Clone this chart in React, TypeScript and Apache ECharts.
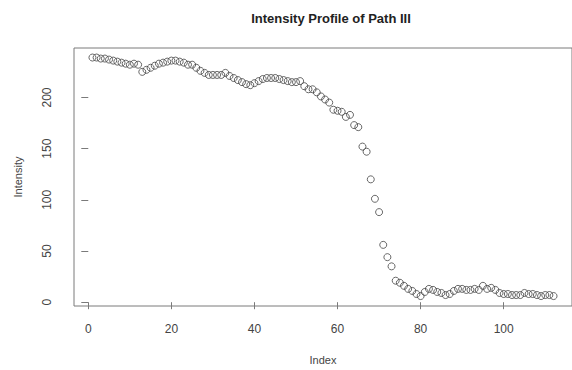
import React, { useEffect, useRef } from "react";
import * as echarts from "echarts";

const title = "Intensity Profile of Path III";
const xName = "Index";
const yName = "Intensity";
const xTicks = [0, 20, 40, 60, 80, 100];
const yTicks = [0, 50, 100, 150, 200];
const intensity = [
  239, 239, 238, 238, 237, 236, 235, 234, 233, 232,
  233, 232, 225, 227, 229, 231, 233, 234, 235, 236,
  236, 235, 234, 232, 232, 229, 226, 224, 222, 222,
  222, 222, 224, 221, 219, 217, 215, 213, 212, 214,
  216, 218, 219, 219, 219, 218, 217, 216, 215, 215,
  216, 211, 208, 208, 205, 201, 198, 195, 188, 187,
  186, 181, 183, 173, 171, 152, 147, 120, 101, 88,
  56, 44, 35, 21, 19, 16, 13, 11, 8, 6,
  10, 13, 12, 10, 9, 7, 8, 11, 13, 13,
  12, 12, 13, 12, 16, 13, 14, 12, 9, 8,
  8, 7, 7, 7, 9, 8, 8, 7, 6, 7,
  7, 6,
];

export default function App() {
  const ref = useRef<HTMLDivElement>(null);
  useEffect(() => {
    if (!ref.current) return;
    const chart = echarts.init(ref.current, null, { renderer: "svg" });
    const n = intensity.length;
    const xMin = 1 - 0.04 * (n - 1);
    const xMax = n + 0.04 * (n - 1);
    const yLo = Math.min(...intensity);
    const yHi = Math.max(...intensity);
    const yMin = yLo - 0.04 * (yHi - yLo) - 0.4;
    const yMax = yHi + 0.04 * (yHi - yLo);
    const font = "'Liberation Sans', Arial, Helvetica, sans-serif";
    chart.setOption({
      animation: false,
      backgroundColor: "#ffffff",
      grid: {
        left: 74,
        top: 48,
        right: -16,
        bottom: 61,
        show: true,
        borderColor: "#7a7a7a",
        borderWidth: 1,
        backgroundColor: "transparent",
      },
      graphic: [
        {
          type: "text",
          x: 331,
          y: 18,
          style: {
            text: title,
            align: "center",
            verticalAlign: "middle",
            font: `bold 13px ${font}`,
            fill: "#222",
          },
        },
      ],
      xAxis: {
        type: "value",
        min: xMin,
        max: xMax,
        name: xName,
        nameLocation: "middle",
        nameGap: 48,
        nameTextStyle: { fontFamily: font, fontSize: 11, color: "#444" },
        axisLine: { show: false },
        splitLine: { show: false },
        axisTick: {
          show: true,
          inside: false,
          length: 7,
          lineStyle: { color: "#7a7a7a" },
          customValues: xTicks,
        },
        axisLabel: {
          customValues: xTicks,
          margin: 17,
          fontFamily: font,
          fontSize: 12,
          color: "#444",
        },
      },
      yAxis: {
        type: "value",
        min: yMin,
        max: yMax,
        name: yName,
        nameLocation: "middle",
        nameRotate: 90,
        nameGap: 51,
        nameTextStyle: { fontFamily: font, fontSize: 11, color: "#444" },
        axisLine: { show: false },
        splitLine: { show: false },
        axisTick: {
          show: true,
          inside: false,
          length: 7,
          lineStyle: { color: "#7a7a7a" },
          customValues: yTicks,
        },
        axisLabel: {
          customValues: yTicks,
          rotate: 90,
          margin: 21,
          fontFamily: font,
          fontSize: 12,
          color: "#444",
        },
      },
      series: [
        {
          type: "scatter",
          data: intensity.map((v, i) => [i + 1, v]),
          symbol: "circle",
          symbolSize: 7,
          itemStyle: {
            color: "rgba(255,255,255,0)",
            borderColor: "#444",
            borderWidth: 1,
          },
        },
      ],
    });
    return () => chart.dispose();
  }, []);
  return (
    <div
      ref={ref}
      style={{ position: "fixed", left: 0, top: 0, width: 572, height: 370 }}
    />
  );
}
